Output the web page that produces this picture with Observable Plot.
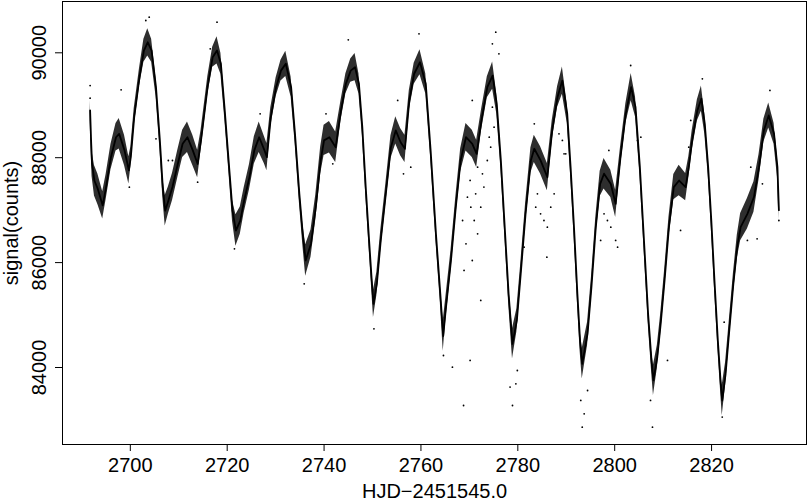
<!DOCTYPE html>
<html>
<head>
<meta charset="utf-8">
<script src="https://cdn.jsdelivr.net/npm/d3@7"></script>
<script src="https://cdn.jsdelivr.net/npm/@observablehq/plot@0.6"></script>
<style>
  html, body { margin: 0; padding: 0; background: white; }
  #chart { width: 807px; height: 501px; }
</style>
</head>
<body>
<div id="chart"></div>
<script>
// Light curve: time (HJD-2451545.0), band centre (counts), band half-width (counts)
const times = [
  2691.7, 2691.9, 2692.1, 2692.6, 2693.3, 2694.3, 2695.0, 2696.0, 2697.05, 2697.7,
  2698.8, 2699.7, 2700.1, 2700.8, 2701.9, 2702.8, 2703.6, 2704.4, 2705.3, 2706.1,
  2706.7, 2707.2, 2707.85, 2708.7, 2709.8, 2710.8, 2711.8, 2712.9, 2713.9, 2714.6,
  2716.0, 2717.0, 2717.9, 2718.7, 2719.5, 2720.4, 2721.1, 2721.8, 2722.7, 2723.5,
  2724.6, 2725.6, 2726.6, 2727.7, 2728.2, 2729.0, 2730.1, 2731.1, 2732.1, 2733.2,
  2734.0, 2734.9, 2735.6, 2736.2, 2737.3, 2738.3, 2739.3, 2740.0, 2741.1, 2742.4,
  2743.5, 2744.5, 2745.5, 2746.4, 2747.2, 2747.9, 2748.6, 2749.3, 2749.8, 2750.2,
  2750.9, 2751.7, 2752.75, 2753.8, 2754.8, 2755.8, 2756.7, 2757.6, 2758.6, 2759.8,
  2761.0, 2762.0, 2763.1, 2764.0, 2764.6, 2765.1, 2766.2, 2767.2, 2768.2, 2769.3,
  2770.6, 2771.5, 2772.5, 2773.7, 2774.8, 2775.65, 2776.5, 2777.3, 2778.1, 2778.9,
  2779.8, 2780.6, 2781.6, 2782.7, 2783.4, 2784.7, 2786.1, 2787.1, 2788.2, 2789.2,
  2790.2, 2790.9, 2791.6, 2792.3, 2792.85, 2793.3, 2794.4, 2795.2, 2796.1, 2797.0,
  2797.8, 2799.2, 2800.2, 2801.2, 2802.3, 2803.4, 2804.3, 2805.2, 2806.05, 2806.9,
  2807.6, 2808.0, 2808.8, 2809.5, 2810.3, 2811.2, 2812.2, 2813.3, 2814.65, 2815.3,
  2816.0, 2817.06, 2817.9, 2818.6, 2819.3, 2819.95, 2820.6, 2821.3, 2821.9, 2822.2,
  2822.9, 2823.6, 2824.5, 2825.3, 2826.0, 2827.4, 2828.75, 2829.8, 2830.8, 2831.8,
  2832.9, 2833.6, 2833.9
];
const signal = [
  88900, 88330, 87880, 87560, 87400, 87090, 87440, 88010, 88390, 88455,
  88140, 87760, 88010, 88770, 89535, 90040, 90200, 90040, 89345, 88330,
  87440, 86990, 87180, 87440, 87880, 88265, 88390, 88140, 87880, 88330,
  89380, 89915, 90045, 89790, 88900, 87820, 86990, 86610, 86800, 87185,
  87630, 88140, 88390, 88140, 88010, 88770, 89345, 89660, 89790, 89345,
  88455, 87310, 86550, 86040, 86360, 87060, 87950, 88330, 88390, 88200,
  88900, 89410, 89660, 89725, 89410, 88580, 87440, 86420, 85720, 85215,
  85595, 86420, 87310, 88200, 88520, 88295, 88170, 89090, 89600, 89820,
  89410, 88140, 86550, 85405, 84600, 85085, 86040, 87060, 87950, 88390,
  88265, 88075, 88710, 89345, 89565, 89030, 87950, 86675, 85405, 84450,
  84895, 85785, 86930, 87950, 88170, 87950, 87630, 88520, 89155, 89470,
  88840, 87820, 86675, 85405, 84515, 84070, 84645, 85530, 86675, 87500,
  87695, 87500, 87120, 88010, 88840, 89345, 88965, 87820, 86420, 85025,
  84135, 83755, 84200, 84835, 85660, 86675, 87440, 87565, 87440, 87820,
  88330, 88900, 89125, 88645, 87820, 86800, 85660, 84515, 83690, 83370,
  83880, 84645, 85595, 86295, 86675, 86930, 87250, 87820, 88520, 88805,
  88455, 87820, 87000
];
const spread = [
  190, 190, 240, 290, 290, 260, 240, 240, 260, 290,
  290, 260, 190, 170, 170, 220, 260, 220, 170, 160,
  190, 290, 260, 260, 260, 260, 290, 290, 260, 190,
  170, 190, 260, 200, 160, 160, 200, 300, 260, 240,
  240, 260, 290, 260, 260, 180, 180, 200, 240, 190,
  160, 160, 200, 300, 260, 240, 260, 290, 300, 290,
  190, 190, 220, 260, 190, 160, 150, 150, 180, 260,
  220, 190, 190, 220, 260, 260, 260, 190, 200, 240,
  190, 150, 150, 170, 290, 220, 190, 190, 220, 260,
  260, 260, 200, 200, 260, 190, 160, 150, 170, 290,
  220, 190, 190, 240, 260, 260, 260, 190, 200, 260,
  180, 160, 150, 160, 190, 290, 220, 190, 190, 240,
  290, 260, 260, 190, 190, 260, 190, 160, 150, 160,
  190, 290, 220, 190, 190, 190, 240, 290, 260, 200,
  190, 200, 240, 190, 160, 150, 150, 160, 190, 290,
  220, 190, 190, 220, 260, 290, 290, 240, 220, 240,
  200, 190, 190
];
// Scattered individual points
const outT = [
  2691.7, 2691.7, 2698.1, 2699.8, 2703.9, 2703.2, 2705.3, 2707.85, 2708.7, 2713.9,
  2716.5, 2717.9, 2721.5, 2726.8, 2735.9, 2740.4, 2745.0, 2759.6, 2750.3, 2755.2,
  2741.8, 2756.4, 2757.9, 2764.65, 2775.45, 2774.75, 2776.1, 2770.6, 2768.8, 2778.9,
  2770.15, 2766.5, 2772.35, 2768.9, 2770.6, 2769.3, 2771.7, 2771.0, 2770.3, 2772.35,
  2771.3, 2773.0, 2770.15, 2772.7, 2773.7, 2774.4, 2775.1, 2774.1, 2774.75, 2771.7,
  2769.6, 2768.6, 2784.05, 2784.7, 2786.1, 2785.4, 2786.8, 2783.7, 2787.5, 2788.5,
  2789.9, 2786.0, 2783.4, 2781.3, 2779.9, 2779.6, 2778.4, 2803.3, 2793.3, 2793.7,
  2793.0, 2794.4, 2807.8, 2807.4, 2810.9, 2799.2, 2800.2, 2798.5, 2797.8, 2797.1,
  2800.6, 2798.8, 2789.2, 2789.55, 2813.6, 2815.7, 2815.3, 2804.7, 2805.4, 2818.1,
  2832.05, 2828.1, 2829.4, 2827.4, 2822.6, 2822.2, 2833.9, 2830.5
];
const outV = [
  89376, 89135, 89294, 87438, 90679, 90616, 88360, 87947, 87947, 87533,
  90076, 90584, 86262, 88836, 85595, 88836, 90247, 90362, 84737, 89091,
  87883, 87692, 87819, 84229, 90394, 90171, 89981, 89091, 83276, 83276,
  84134, 84007, 85278, 85850, 86040, 86358, 86549, 86803, 87057, 87057,
  87311, 87439, 87566, 87693, 87947, 88201, 88582, 88392, 88964, 87820,
  87248, 86803, 87311, 86930, 86676, 86803, 87057, 87057, 87311, 88456,
  88074, 86104, 88646, 86295, 83943, 83689, 83626, 89758, 82863, 83117,
  83372, 83562, 82863, 83372, 84134, 86676, 86422, 86803, 86930, 86422,
  86295, 88138, 88329, 88074, 86613, 88710, 88201, 88329, 88392, 89504,
  89282, 87820, 86454, 86422, 84865, 83054, 86803, 87502
];
const xTicks = [2700, 2720, 2740, 2760, 2780, 2800, 2820];
const yTicks = [84000, 86000, 88000, 90000];
const xLabel = "HJD\u22122451545.0";
const yLabel = "signal(counts)";

const band = times.map((t, i) => ({t, v: signal[i], s: spread[i]}));
const scatter = outT.map((t, i) => ({t, v: outV[i]}));

const FONT = "Liberation Sans, Arial, Helvetica, sans-serif";

const chart = Plot.plot({
  width: 807,
  height: 501,
  marginLeft: 62,
  marginRight: 1,
  marginTop: 1,
  marginBottom: 57,
  style: {fontFamily: FONT, background: "white", color: "black"},
  x: {domain: [2686.0, 2839.6]},
  y: {domain: [82532, 90978]},
  marks: [
    Plot.areaY(band, {x: "t", y1: d => d.v - d.s, y2: d => d.v + d.s, fill: "black", fillOpacity: 0.82}),
    Plot.line(band, {x: "t", y: "v", stroke: "black", strokeWidth: 1.8}),
    Plot.dot(scatter, {x: "t", y: "v", r: 0.9, fill: "black", stroke: null}),
    Plot.frame({stroke: "black", strokeWidth: 1}),
    Plot.axisX({ticks: xTicks, tickSize: 7, tickPadding: 6, fontSize: 20, tickFormat: d => String(d), label: null, stroke: "black"}),
    Plot.axisY({ticks: yTicks, tickSize: 7, tickPadding: 10, fontSize: 20, tickRotate: -90, tickFormat: d => String(d), label: null, stroke: "black"}),
    Plot.text([xLabel], {frameAnchor: "bottom", dy: 53, lineAnchor: "bottom", fontSize: 20, text: d => d}),
    Plot.text([yLabel], {frameAnchor: "left", dx: -45, rotate: -90, lineAnchor: "bottom", textAnchor: "middle", fontSize: 20, text: d => d})
  ]
});
document.getElementById("chart").appendChild(chart);
</script>
</body>
</html>
